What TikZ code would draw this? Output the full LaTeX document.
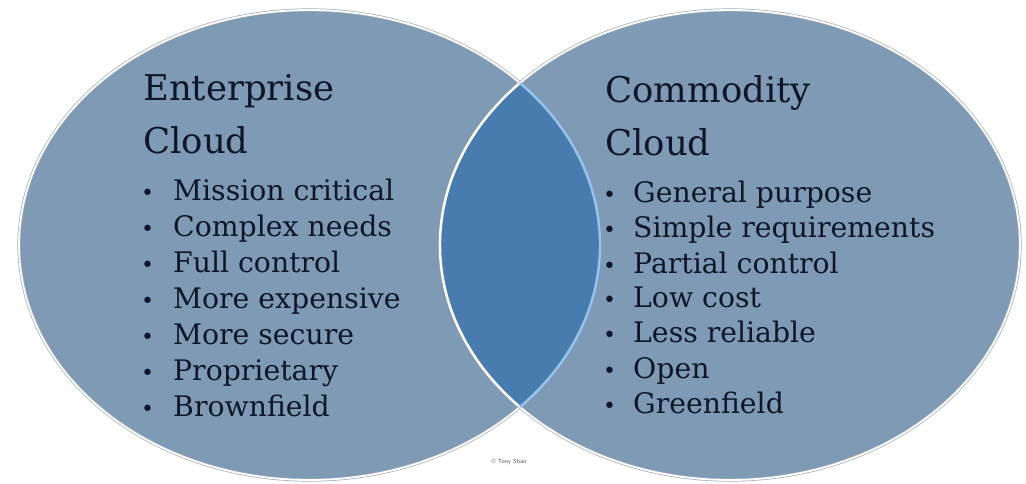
\documentclass[tikz,border=0pt]{standalone}
\usepackage{fontspec}
\setmainfont{DejaVu Serif}
\definecolor{ellfill}{RGB}{127,154,181}
\definecolor{lensfill}{RGB}{72,124,174}
\definecolor{edgegray}{RGB}{160,172,184}
\definecolor{lensedge}{RGB}{150,195,240}
\definecolor{txt}{RGB}{14,22,40}
\tikzset{
  heading/.style={anchor=base west, inner sep=0pt, font=\fontsize{35.5}{35.5}\selectfont, text=txt},
  item/.style={anchor=base west, inner sep=0pt, font=\fontsize{28.3}{28.3}\selectfont, text=txt},
  dot/.style={anchor=base west, inner sep=0pt, font=\fontsize{22}{22}\selectfont, text=txt}
}
\begin{document}
\begin{tikzpicture}[x=1pt,y=-1pt]
\useasboundingbox (0,0) rectangle (1026,483);
\fill[white] (0,0) rectangle (1026,483);
% ellipses
\coordinate (cl) at (309.5,245);
\coordinate (cr) at (730,245);
\filldraw[fill=ellfill, draw=edgegray, line width=3.2pt] (cl) ellipse [x radius=290.5, y radius=235];
\draw[white, line width=1.8pt] (cl) ellipse [x radius=290.5, y radius=235];
\filldraw[fill=ellfill, draw=edgegray, line width=3.2pt] (cr) ellipse [x radius=290, y radius=235];
\draw[white, line width=1.8pt] (cr) ellipse [x radius=290, y radius=235];
% lens
\begin{scope}
  \clip (cl) ellipse [x radius=290.5, y radius=235];
  \fill[lensfill] (cr) ellipse [x radius=290, y radius=235];
  \draw[white, line width=2.4pt] (cr) ellipse [x radius=290, y radius=235];
\end{scope}
\begin{scope}
  \clip (cr) ellipse [x radius=290, y radius=235];
  \draw[lensedge, line width=2.4pt] (cl) ellipse [x radius=290.5, y radius=235];
\end{scope}
% left texts
\node[heading] (lh1) at (143,100) {Enterprise};
\node[heading] (lh2) at (143,153) {Cloud};
\foreach \t/\y [count=\i] in {Mission critical/200, Complex needs/236, Full control/272, More expensive/308, More secure/344, Proprietary/380, Brownfield/416}{
  \node[dot] (lb\i) at (141,\y) {•};
  \node[item] (li\i) at (173,\y) {\t};
}
% right texts
\node[heading] (rh1) at (605,102) {Commodity};
\node[heading] (rh2) at (605,155) {Cloud};
\foreach \t/\y [count=\i] in {General purpose/202, Simple requirements/237, Partial control/273, Low cost/307, Less reliable/342, Open/378, Greenfield/413}{
  \node[dot] (rb\i) at (603,\y) {•};
  \node[item] (ri\i) at (633,\y) {\t};
}
% copyright
\node[anchor=center, inner sep=0pt, font=\fontsize{6}{6}\selectfont\sffamily, text=black!70] (copy) at (509,462) {© Tony Shan};
\end{tikzpicture}
\end{document}
